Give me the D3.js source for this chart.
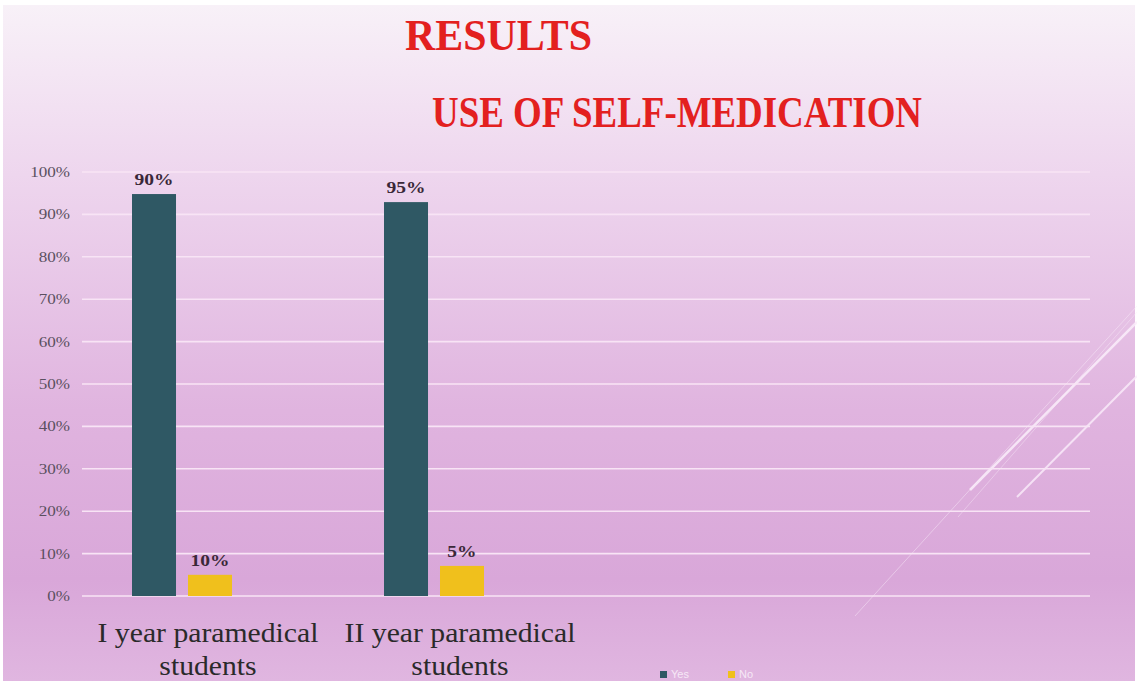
<!DOCTYPE html>
<html>
<head>
<meta charset="utf-8">
<style>
  body { margin: 0; background: #fff; }
  svg { display: block; }
</style>
</head>
<body>
<svg width="1137" height="681"></svg>
<script src="https://d3js.org/d3.v7.min.js"></script>
<script>
// chart values
const categories = ["I year paramedical students", "II year paramedical students"];
const seriesNames = ["Yes", "No"];
const yesValues = [94.8, 92.9];
const noValues = [5.0, 7.1];
const yesLabels = ["90%", "95%"];
const noLabels = ["10%", "5%"];
const yTicks = [0, 10, 20, 30, 40, 50, 60, 70, 80, 90, 100];
const colors = ["#2f5864", "#f0c01c"];

const width = 1137, height = 681;
const svg = d3.select("svg");
// the slide text looks a bit stretched sideways
const stretch = 1.22;

// slide background
const defs = svg.append("defs");
const grad = defs.append("linearGradient").attr("id", "bg")
  .attr("x1", 0).attr("y1", 0).attr("x2", 0).attr("y2", 1);
grad.append("stop").attr("offset", "0%").attr("stop-color", "#f8f1f8");
grad.append("stop").attr("offset", "25%").attr("stop-color", "#eed6ee");
grad.append("stop").attr("offset", "60%").attr("stop-color", "#e0b4df");
grad.append("stop").attr("offset", "85%").attr("stop-color", "#d9a7d9");
grad.append("stop").attr("offset", "100%").attr("stop-color", "#e0b6e0");
svg.append("rect").attr("x", 3).attr("y", 5).attr("width", width - 5).attr("height", height - 5)
  .attr("fill", "url(#bg)");

// decorative lines
const deco = [
  [[855, 616], [1137, 306], 1, 0.45],
  [[958, 517], [1137, 312], 1, 0.4],
  [[970, 490], [1137, 322], 2.5, 0.85],
  [[1017, 497], [1137, 376], 2, 0.8]
];
svg.append("g").selectAll("line").data(deco).enter().append("line")
  .attr("x1", d => d[0][0]).attr("y1", d => d[0][1])
  .attr("x2", d => d[1][0]).attr("y2", d => d[1][1])
  .attr("stroke", "#fbeefb")
  .attr("stroke-width", d => d[2])
  .attr("opacity", d => d[3]);

// titles
svg.append("text").attr("x", 405).attr("y", 50)
  .attr("font-family", "Liberation Serif, serif").attr("font-weight", "bold")
  .attr("font-size", 45).attr("fill", "#e3201f")
  .attr("textLength", 187).attr("lengthAdjust", "spacingAndGlyphs")
  .text("RESULTS");
svg.append("text").attr("x", 432).attr("y", 127)
  .attr("font-family", "Liberation Serif, serif").attr("font-weight", "bold")
  .attr("font-size", 45).attr("fill", "#e3201f")
  .attr("textLength", 490).attr("lengthAdjust", "spacingAndGlyphs")
  .text("USE OF SELF-MEDICATION");

// scales
const y = d3.scaleLinear().domain([0, 100]).range([596, 172]);
const x0 = d3.scaleBand().domain(categories).range([82, 586]);
// third slot left empty in the original layout
const x1 = d3.scaleBand().domain(["Yes", "No", "-"]).range([50, 206]).paddingInner(0.214);

// gridlines
svg.append("g").selectAll("line").data(yTicks).enter().append("line")
  .attr("x1", 82).attr("x2", 1090)
  .attr("y1", d => y(d)).attr("y2", d => y(d))
  .attr("stroke", "#f8e4f5").attr("stroke-width", 1.6);

// y axis labels
const yAxis = d3.axisLeft(y).tickValues(yTicks).tickFormat(d => d + "%").tickSize(0).tickPadding(0);
const gy = svg.append("g").attr("transform", "translate(70,0)").call(yAxis);
gy.select(".domain").remove();
gy.selectAll(".tick text")
  .attr("transform", "scale(" + stretch + ",1)")
  .attr("font-family", "Liberation Serif, serif").attr("font-size", 14).attr("fill", "#5a5060");

// bars
const rows = categories.map((c, i) => ({
  cat: c,
  vals: [
    { key: "Yes", v: yesValues[i], label: yesLabels[i], color: colors[0] },
    { key: "No", v: noValues[i], label: noLabels[i], color: colors[1] }
  ]
}));
const groups = svg.append("g").selectAll("g").data(rows).enter().append("g")
  .attr("transform", d => "translate(" + x0(d.cat) + ",0)");
groups.selectAll("rect").data(d => d.vals).enter().append("rect")
  .attr("x", d => x1(d.key)).attr("width", x1.bandwidth())
  .attr("y", d => y(d.v)).attr("height", d => y(0) - y(d.v))
  .attr("fill", d => d.color);
groups.selectAll("text").data(d => d.vals).enter().append("text")
  .attr("transform", d => "translate(" + (x1(d.key) + x1.bandwidth() / 2) + "," + (y(d.v) - 9) + ") scale(" + stretch + ",1)")
  .attr("text-anchor", "middle")
  .attr("font-family", "Liberation Serif, serif").attr("font-weight", "bold")
  .attr("font-size", 16).attr("fill", "#3a2838")
  .text(d => d.label);

// category labels, wrapped in two lines
const xAxis = d3.axisBottom(x0).tickSize(0).tickPadding(0);
const gx = svg.append("g").call(xAxis);
gx.select(".domain").remove();
gx.selectAll(".tick text").each(function(d) {
  const t = d3.select(this);
  const words = d.split(" ");
  const line1 = words.slice(0, -1).join(" ");
  const line2 = words[words.length - 1];
  t.text(null).attr("y", 0).attr("dy", null)
    .attr("font-family", "Liberation Serif, serif").attr("font-size", 27).attr("fill", "#2a2a2a")
    .attr("transform", "scale(1.1,1)");
  t.append("tspan").attr("x", 0).attr("y", 642).text(line1);
  t.append("tspan").attr("x", 0).attr("y", 675).text(line2);
});

// legend (at the bottom edge of the slide)
const legend = svg.append("g").selectAll("g").data(seriesNames).enter().append("g")
  .attr("transform", (d, i) => "translate(" + (660 + i * 68) + ",0)");
legend.append("rect").attr("x", 0).attr("y", 671).attr("width", 7).attr("height", 7)
  .attr("fill", (d, i) => colors[i]);
legend.append("text").attr("x", 11).attr("y", 678)
  .attr("font-family", "Liberation Sans, sans-serif").attr("font-size", 11)
  .attr("fill", "#f6e8f6").text(d => d);
</script>
</body>
</html>
